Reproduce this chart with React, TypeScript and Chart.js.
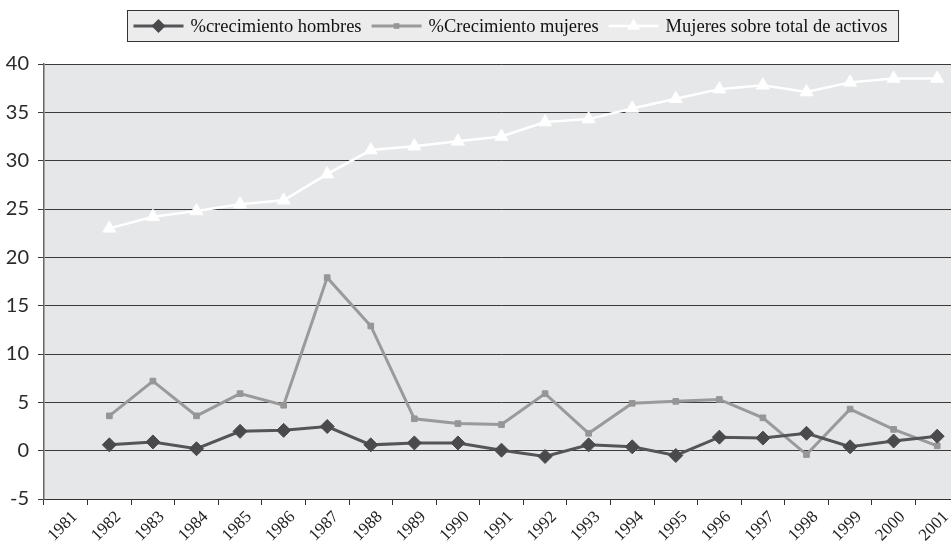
import React, { useEffect, useRef } from 'react';
import { Chart, registerables } from 'chart.js';

Chart.register(...registerables);

// ---- data ----
const years: string[] = [
  '1981', '1982', '1983', '1984', '1985', '1986', '1987', '1988', '1989', '1990', '1991',
  '1992', '1993', '1994', '1995', '1996', '1997', '1998', '1999', '2000', '2001',
];
const crecimientoHombres: (number | null)[] = [
  null, 0.6, 0.9, 0.2, 2.0, 2.1, 2.5, 0.6, 0.8, 0.8, 0.05,
  -0.6, 0.6, 0.4, -0.5, 1.4, 1.3, 1.8, 0.4, 1.0, 1.5,
];
const crecimientoMujeres: (number | null)[] = [
  null, 3.6, 7.2, 3.6, 5.9, 4.7, 17.9, 12.9, 3.3, 2.8, 2.7,
  5.9, 1.8, 4.9, 5.1, 5.3, 3.4, -0.4, 4.3, 2.2, 0.5,
];
const mujeresSobreTotal: (number | null)[] = [
  null, 23.0, 24.2, 24.8, 25.5, 25.9, 28.6, 31.1, 31.5, 32.0, 32.5,
  34.0, 34.3, 35.4, 36.4, 37.4, 37.8, 37.1, 38.1, 38.5, 38.5,
];
const seriesLabels: string[] = [
  '%crecimiento hombres',
  '%Crecimiento mujeres',
  'Mujeres sobre total de activos',
];
const yMin = -5;
const yMax = 40;
const yStep = 5;

// ---- plugins ----
const plotBackground = {
  id: 'plotBackground',
  beforeDraw(chart: any) {
    const { ctx, chartArea } = chart;
    ctx.save();
    ctx.fillStyle = '#e6e7e9';
    ctx.fillRect(chartArea.left, chartArea.top, chartArea.right - chartArea.left, chartArea.bottom - chartArea.top);
    ctx.restore();
  },
};

function drawMarker(ctx: CanvasRenderingContext2D, style: string, x: number, y: number, r: number, color: string) {
  ctx.beginPath();
  if (style === 'rectRot') {
    ctx.moveTo(x, y - r);
    ctx.lineTo(x + r, y);
    ctx.lineTo(x, y + r);
    ctx.lineTo(x - r, y);
  } else if (style === 'rect') {
    const s = r * Math.SQRT1_2;
    ctx.rect(x - s, y - s, 2 * s, 2 * s);
  } else if (style === 'triangle') {
    for (let i = 0; i < 3; i++) {
      const a = (i * 2 * Math.PI) / 3;
      const px = x + Math.sin(a) * r;
      const py = y - Math.cos(a) * r;
      if (i === 0) ctx.moveTo(px, py);
      else ctx.lineTo(px, py);
    }
  }
  ctx.closePath();
  ctx.fillStyle = color;
  ctx.fill();
}

const boxLegend = {
  id: 'boxLegend',
  afterDraw(chart: any) {
    const ctx: CanvasRenderingContext2D = chart.ctx;
    ctx.save();
    ctx.font = '18.5px "Liberation Serif"';
    const items = chart.data.datasets.map((ds: any) => ({ ds, w: ctx.measureText(ds.label).width }));
    const symW = 50;
    const gap = 7;
    const itemGap = 10;
    const padL = 6;
    const padR = 11;
    const total =
      padL + items.reduce((s: number, it: any) => s + symW + gap + it.w, 0) + itemGap * (items.length - 1) + padR;
    const cx = 513;
    const top = 10.5;
    const h = 31;
    const left = Math.round(cx - total / 2) + 0.5;
    ctx.fillStyle = '#ececec';
    ctx.fillRect(left, top, total, h);
    ctx.strokeStyle = '#333';
    ctx.lineWidth = 1;
    ctx.strokeRect(left, top, total, h);
    const cy = top + h / 2;
    let x = left + padL;
    items.forEach((it: any) => {
      const ds = it.ds;
      ctx.strokeStyle = ds.borderColor;
      ctx.lineWidth = ds.borderWidth;
      ctx.beginPath();
      ctx.moveTo(x, cy);
      ctx.lineTo(x + symW, cy);
      ctx.stroke();
      drawMarker(ctx, ds.pointStyle, x + symW / 2, cy, ds.legendRadius, ds.pointBackgroundColor);
      x += symW + gap;
      ctx.fillStyle = '#111';
      ctx.textBaseline = 'middle';
      ctx.textAlign = 'left';
      ctx.fillText(ds.label, x, cy + 1);
      x += it.w + itemGap;
    });
    ctx.restore();
  },
};

export default function App() {
  const canvasRef = useRef<HTMLCanvasElement | null>(null);

  useEffect(() => {
    if (!canvasRef.current) return;
    const chart = new Chart(canvasRef.current, {
      type: 'line',
      data: {
        labels: years,
        datasets: [
          {
            label: seriesLabels[0],
            data: crecimientoHombres,
            borderColor: '#555558',
            borderWidth: 3,
            pointStyle: 'rectRot',
            pointRadius: 7,
            pointBackgroundColor: '#4a4a4d',
            pointBorderColor: '#4a4a4d',
            pointBorderWidth: 1,
            tension: 0,
            legendRadius: 7,
          } as any,
          {
            label: seriesLabels[1],
            data: crecimientoMujeres,
            borderColor: '#9a9a9b',
            borderWidth: 3,
            pointStyle: 'rect',
            pointRadius: 4,
            pointBackgroundColor: '#969697',
            pointBorderColor: '#969697',
            pointBorderWidth: 1,
            tension: 0,
            legendRadius: 4,
          } as any,
          {
            label: seriesLabels[2],
            data: mujeresSobreTotal,
            borderColor: '#ffffff',
            borderWidth: 2.5,
            pointStyle: 'triangle',
            pointRadius: 7.5,
            pointBackgroundColor: '#ffffff',
            pointBorderColor: '#ffffff',
            pointBorderWidth: 1,
            tension: 0,
            legendRadius: 7.5,
          } as any,
        ],
      },
      options: {
        responsive: false,
        animation: false,
        devicePixelRatio: 1,
        layout: { padding: { top: 64, right: 16, left: 0, bottom: 0 } },
        plugins: {
          legend: { display: false },
          tooltip: { enabled: false },
        },
        scales: {
          x: {
            type: 'category',
            offset: true,
            grid: {
              offset: true,
              drawOnChartArea: false,
              drawTicks: true,
              tickLength: 6,
              color: '#333',
            },
            border: { color: '#333', width: 1 },
            ticks: {
              autoSkip: false,
              minRotation: 45,
              maxRotation: 45,
              labelOffset: 9,
              padding: 2,
              color: '#222',
              font: { family: '"Liberation Serif"', size: 17 },
            },
            afterFit(scale: any) {
              scale.height = 48;
            },
          },
          y: {
            min: yMin,
            max: yMax,
            ticks: {
              stepSize: yStep,
              padding: 9,
              color: '#2a2a2a',
              font: { family: 'Lato', size: 20 },
            },
            grid: {
              color: '#3a3a3a',
              lineWidth: 1,
              drawTicks: true,
              tickLength: 6,
            },
            border: { color: '#666', width: 1.5 },
            afterFit(scale: any) {
              scale.width = 44;
            },
          },
        },
      },
      plugins: [plotBackground, boxLegend],
    });
    return () => chart.destroy();
  }, []);

  return (
    <div
      style={{
        position: 'fixed',
        left: 0,
        top: 0,
        width: 951,
        height: 547,
        overflow: 'hidden',
        background: '#ffffff',
      }}
    >
      <canvas ref={canvasRef} width={975} height={547} style={{ display: 'block' }} />
    </div>
  );
}
